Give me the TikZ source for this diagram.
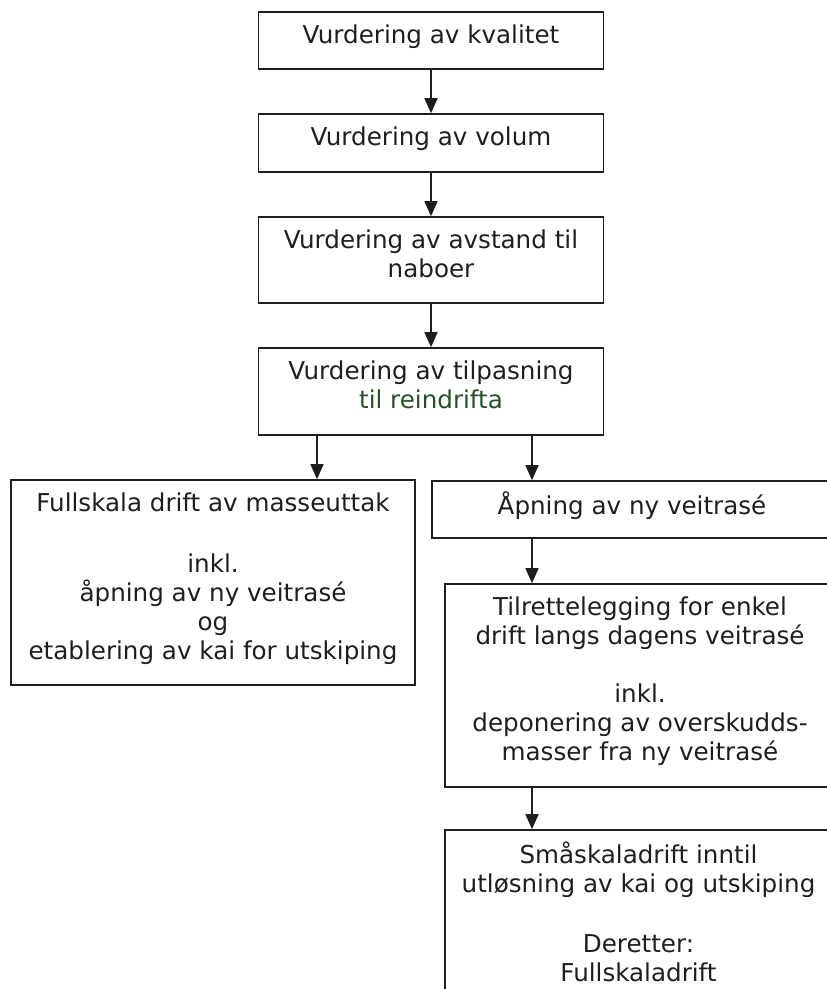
\documentclass[tikz,border=0pt]{standalone}
\usepackage{fontspec}
\setmainfont{DejaVu Sans}
\usepackage{tikz}
\usetikzlibrary {arrows.meta}

\definecolor{blekk}{RGB}{30,30,30}
\definecolor{reingronn}{RGB}{40,80,40}

\begin{document}
\begin{tikzpicture} [x = 1pt, y = -1pt]
        %style
        \tikzset{felt/.style = {shape=rectangle, draw=blekk, text=blekk, line width=1.6pt, inner sep=0pt, align=center, text depth=13pt, font=\fontsize{24.6}{29}\selectfont, minimum width = 345pt}}
        \tikzset{pil/.style = {draw=blekk, line width=1.6pt, -{Triangle[length=15pt, width=13pt]}}}
        \useasboundingbox (0,0) rectangle (827,989);
        \clip (0,0) rectangle (827,989);
        \node[felt, minimum height = 57pt]  (kval)    at  (431,40.5)  {Vurdering av kvalitet};
        \node[felt, minimum height = 58pt]  (volum)   at  (431,143)   {Vurdering av volum};
        \node[felt, minimum height = 86pt]  (avstand) at  (431,260)   {Vurdering av avstand til\\ naboer};
        \node[felt, minimum height = 87pt]  (tilpas)  at  (431,391.5) {Vurdering av tilpasning\\ \textcolor{reingronn}{til reindrifta}};
        \node[felt, minimum width = 404pt, minimum height = 205pt] (full)    at (213,582.5)   {Fullskala drift av masseuttak\\[32pt] inkl.\\ åpning av ny veitrasé\\ og\\ etablering av kai for utskiping};
        \node[felt, minimum width = 400pt, minimum height = 57pt]  (aapning) at (632,509.5)   {Åpning av ny veitrasé};
        \node[felt, minimum width = 390pt, minimum height = 203pt] (tilrett) at (640,685.5)   {Tilrettelegging for enkel\\ drift langs dagens veitrasé\\[29pt] inkl.\\ deponering av overskudds-\\ masser fra ny veitrasé};
        \node[felt, minimum width = 387pt, minimum height = 177pt] (smaa)    at (638.5,918.5) {Småskaladrift inntil\\ utløsning av kai og utskiping\\[31pt] Deretter:\\ Fullskaladrift};
        \draw [pil] (kval) to (volum);
        \draw [pil] (volum) to (avstand);
        \draw [pil] (avstand) to (tilpas);
        \draw [pil] (317,0 |- tilpas.south) to (317,0 |- full.north);
        \draw [pil] (532,0 |- tilpas.south) to (532,0 |- aapning.north);
        \draw [pil] (532,0 |- aapning.south) to (532,0 |- tilrett.north);
        \draw [pil] (532,0 |- tilrett.south) to (532,0 |- smaa.north);
\end{tikzpicture}
\end{document}
